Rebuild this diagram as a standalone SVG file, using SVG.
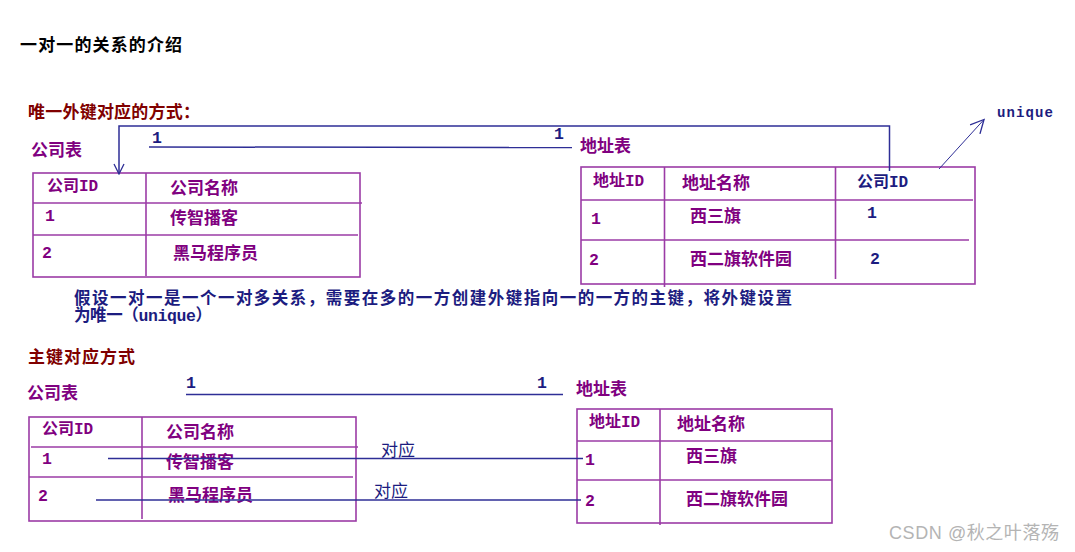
<svg xmlns="http://www.w3.org/2000/svg" width="1075" height="552" viewBox="0 0 1075 552">
<style>
.cjk{font-family:'Noto Sans CJK SC','Noto Sans CJK TC',sans-serif;font-weight:bold;font-size:17px}
.mix{font-family:'Liberation Mono','Noto Sans CJK SC',monospace;font-weight:bold;font-size:16px}
.para{font-family:'Liberation Mono','Noto Sans CJK SC',monospace;font-weight:bold;font-size:16.5px}
.num{font-family:'Liberation Mono','Noto Sans CJK SC',monospace;font-weight:bold;font-size:16.5px}
.pur{fill:#800080}
.navy{fill:#1c1c80}
.red{fill:#800000}
.blk{fill:#000000}
.tbl{fill:none;stroke:#9b3ba6;stroke-width:1.6}
.con{fill:none;stroke:#2e2e96;stroke-width:1.5}
.wm{font-family:'Liberation Sans','Noto Sans CJK SC',sans-serif;font-size:18px;fill:#b4b4b4}
.lab{font-family:'Noto Sans CJK SC',sans-serif;font-size:17px;fill:#1c1c80}
</style>
<defs>
<marker id="arr" viewBox="0 0 12 12" refX="11" refY="6" markerWidth="12" markerHeight="12" markerUnits="userSpaceOnUse" orient="auto">
<path d="M1,1 L11,6 L1,11" fill="none" stroke="#2e2e96" stroke-width="1.3"/>
</marker>
<marker id="arrL" viewBox="0 0 12 12" refX="11" refY="6" markerWidth="16" markerHeight="16" markerUnits="userSpaceOnUse" orient="auto">
<path d="M1,1 L11,6 L1,11" fill="none" stroke="#2e2e96" stroke-width="1"/>
</marker>
</defs>
<rect width="1075" height="552" fill="#ffffff"/>

<g id="headings">
<text class="cjk blk" x="20" y="51" textLength="162">一对一的关系的介绍</text>
<text class="cjk red" x="28" y="118" textLength="172">唯一外键对应的方式：</text>
<text class="para navy" x="74" y="304" textLength="718" lengthAdjust="spacing">假设一对一是一个一对多关系，需要在多的一方创建外键指向一的一方的主键，将外键设置</text>
<text class="para navy" x="74" y="321" textLength="138" lengthAdjust="spacing">为唯一（unique）</text>
<text class="cjk red" x="28" y="363" textLength="107">主键对应方式</text>
<text class="wm" x="889" y="539" textLength="170">CSDN @秋之叶落殇</text>
</g>

<g id="company1">
<text class="cjk pur" x="31" y="156">公司表</text>
<rect class="tbl" x="33" y="173" width="327" height="104"/>
<line class="tbl" x1="146" y1="173" x2="146" y2="276"/>
<line class="tbl" x1="33" y1="203" x2="362" y2="203"/>
<line class="tbl" x1="33" y1="235" x2="358" y2="235"/>
<text class="mix pur" x="47" y="191">公司ID</text>
<text class="cjk pur" x="170" y="194">公司名称</text>
<text class="num pur" x="45" y="221">1</text>
<text class="cjk pur" x="170" y="224">传智播客</text>
<text class="num pur" x="42" y="258">2</text>
<text class="cjk pur" x="173" y="259">黑马程序员</text>
</g>

<g id="address1">
<text class="cjk pur" x="580" y="152">地址表</text>
<rect class="tbl" x="581" y="167" width="394" height="117"/>
<line class="tbl" x1="664.5" y1="167" x2="664.5" y2="287"/>
<line class="tbl" x1="835.5" y1="167" x2="835.5" y2="279"/>
<line class="tbl" x1="581" y1="200" x2="973" y2="200"/>
<line class="tbl" x1="581" y1="240" x2="969" y2="240"/>
<text class="mix pur" x="593" y="186">地址ID</text>
<text class="cjk pur" x="682" y="189">地址名称</text>
<text class="mix navy" x="857" y="187">公司ID</text>
<text class="num pur" x="591" y="224">1</text>
<text class="cjk pur" x="690" y="222">西三旗</text>
<text class="num navy" x="867" y="218">1</text>
<text class="num pur" x="589" y="265">2</text>
<text class="cjk pur" x="690" y="265">西二旗软件园</text>
<text class="num navy" x="870" y="264">2</text>
</g>

<g id="company2">
<text class="cjk pur" x="27" y="399">公司表</text>
<rect class="tbl" x="29" y="417" width="327" height="104"/>
<line class="tbl" x1="142" y1="417" x2="142" y2="519"/>
<line class="tbl" x1="31" y1="447" x2="358" y2="447"/>
<line class="tbl" x1="29" y1="477" x2="353" y2="477"/>
<text class="mix pur" x="42" y="434">公司ID</text>
<text class="cjk pur" x="166" y="438">公司名称</text>
<text class="num pur" x="42" y="464">1</text>
<text class="cjk pur" x="166" y="468">传智播客</text>
<text class="num pur" x="38" y="501">2</text>
<text class="cjk pur" x="168" y="501">黑马程序员</text>
</g>

<g id="address2">
<text class="cjk pur" x="576" y="395">地址表</text>
<rect class="tbl" x="577" y="409" width="255" height="114"/>
<line class="tbl" x1="660" y1="409" x2="660" y2="525"/>
<line class="tbl" x1="577" y1="441" x2="832" y2="441"/>
<line class="tbl" x1="577" y1="480" x2="832" y2="480"/>
<text class="mix pur" x="589" y="427">地址ID</text>
<text class="cjk pur" x="677" y="430">地址名称</text>
<text class="num pur" x="585" y="465">1</text>
<text class="cjk pur" x="686" y="462">西三旗</text>
<text class="num pur" x="585" y="506">2</text>
<text class="cjk pur" x="686" y="505">西二旗软件园</text>
</g>

<g id="connectors">
<path class="con" d="M889.5,171 V126 H119 V174" marker-end="url(#arr)"/>
<line class="con" x1="149" y1="147" x2="572" y2="147.5"/>
<text class="num navy" x="152" y="143">1</text>
<text class="num navy" x="554" y="139">1</text>
<line class="con" x1="939" y1="169" x2="984" y2="119.5" marker-end="url(#arrL)" style="stroke-width:1"/>
<text class="num navy" x="997" y="117" style="font-size:14px" textLength="56">unique</text>
<line class="con" x1="186" y1="394.5" x2="563" y2="394.5"/>
<text class="num navy" x="186" y="388">1</text>
<text class="num navy" x="537" y="388">1</text>
<line class="con" x1="108" y1="458.5" x2="583" y2="458.5"/>
<line class="con" x1="96" y1="500" x2="581" y2="500"/>
<text class="lab" x="381" y="456">对应</text>
<text class="lab" x="374" y="497">对应</text>
</g>
</svg>
